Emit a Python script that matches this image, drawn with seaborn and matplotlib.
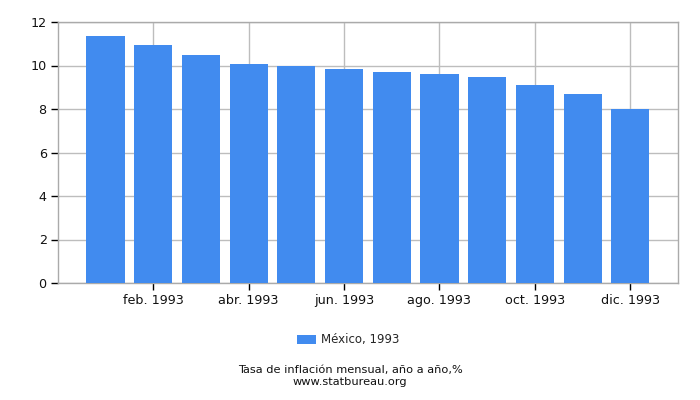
import matplotlib
matplotlib.use("Agg")
import matplotlib.pyplot as plt
import seaborn as sns
import pandas as pd
from matplotlib.patches import Patch

months = ["ene. 1993", "feb. 1993", "mar. 1993", "abr. 1993", "may. 1993", "jun. 1993",
          "jul. 1993", "ago. 1993", "sep. 1993", "oct. 1993", "nov. 1993", "dic. 1993"]
values = [11.34, 10.92, 10.46, 10.09, 10.0, 9.86, 9.72, 9.63, 9.49, 9.12, 8.70, 8.01]
shown_ticks = ["feb. 1993", "abr. 1993", "jun. 1993", "ago. 1993", "oct. 1993", "dic. 1993"]
y_ticks = [0, 2, 4, 6, 8, 10, 12]
series_name = "México, 1993"
caption = "Tasa de inflación mensual, año a año,%"
site = "www.statbureau.org"

bar_color = "#418BEF"

sns.set_style("white")
plt.rcParams['font.family'] = ['DejaVu Sans']

df = pd.DataFrame({"month": months, "value": values})

fig = plt.figure(figsize=(7, 4), dpi=100)
ax = fig.add_axes([0.0826, 0.2925, 0.886, 0.6525])

sns.barplot(data=df, x="month", y="value", color=bar_color, saturation=1, width=0.8, ax=ax,
            zorder=3, linewidth=0, edgecolor="none")

ax.set_xlim(-1.0, 12.0)
ax.set_ylim(0, 12)
ax.set_yticks(y_ticks)
ax.set_yticklabels([str(t) for t in y_ticks], fontsize=9.2)
tick_pos = [months.index(m) for m in shown_ticks]
ax.set_xticks(tick_pos)
ax.set_xticklabels(shown_ticks, fontsize=9.2)
ax.set_xlabel("")
ax.set_ylabel("")

ax.grid(True, color="#bdbdbd", linewidth=1, zorder=0)
ax.set_axisbelow(True)
for s in ax.spines.values():
    s.set_color("#aaaaaa")
    s.set_linewidth(1)
ax.tick_params(axis="both", which="both", direction="out", length=5, width=1, color="black",
               bottom=True, left=True, pad=3, labelcolor="#111111")

handle = Patch(facecolor=bar_color, edgecolor="none")
fig.legend([handle], [series_name], loc="center", bbox_to_anchor=(0.497, 0.15), frameon=False,
           fontsize=8.5, handlelength=1.6, handleheight=0.8, handletextpad=0.4)

fig.text(0.5, 0.074, caption, ha="center", va="center", fontsize=8.2, color="#111111")
fig.text(0.5, 0.046, site, ha="center", va="center", fontsize=8.2, color="#111111")

fig.savefig("out.png", dpi=100)
